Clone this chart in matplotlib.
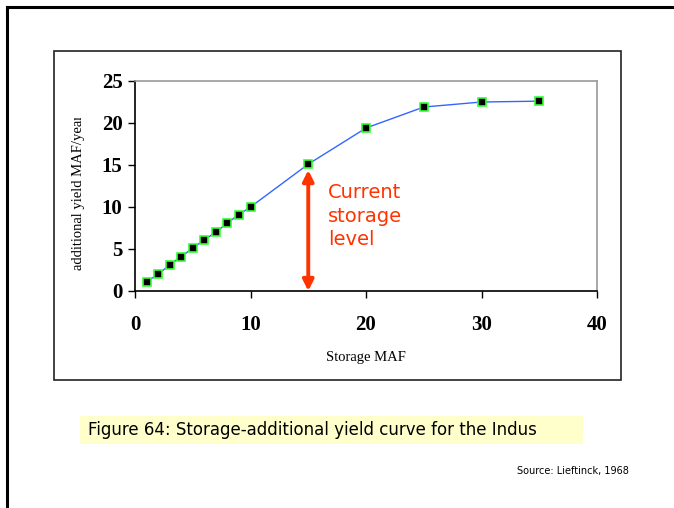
import matplotlib.pyplot as plt
from matplotlib.patches import Rectangle
from matplotlib.transforms import Bbox

# data
storage = [1, 2, 3, 4, 5, 6, 7, 8, 9, 10, 15, 20, 25, 30, 35]
yield_add = [1.1, 2.0, 3.1, 4.1, 5.1, 6.1, 7.0, 8.1, 9.1, 10.0, 15.1, 19.4, 21.9, 22.5, 22.6]
x_ticks = [0, 10, 20, 30, 40]
y_ticks = [0, 5, 10, 15, 20, 25]
current_storage = 15
arrow_top = 14.4

W, H = 674, 508
fig = plt.figure(figsize=(W / 100, H / 100), dpi=100)
fig.patch.set_facecolor('white')

def fx(px):
    return px / W

def fy(py):
    return 1 - py / H

# page border (top and left edges)
fig.add_artist(plt.Line2D([fx(7), 1], [fy(7), fy(7)], color='black', lw=2.2))
fig.add_artist(plt.Line2D([fx(7), fx(7)], [fy(7), 0], color='black', lw=2.2))

# chart frame
fig.add_artist(Rectangle((fx(54), fy(380)), fx(621) - fx(54), fy(51) - fy(380),
                         fill=False, edgecolor='#222222', lw=1.2))

ax = fig.add_axes([fx(135), fy(291), fx(597) - fx(135), fy(81) - fy(291)])
ax.plot(storage, yield_add, color='#3366ff', lw=1, marker='s', markersize=6,
        markerfacecolor='black', markeredgecolor='#33ff33', markeredgewidth=1.2, zorder=3)

ax.set_xlim(0, 40)
ax.set_ylim(0, 25)
ax.set_xticks(x_ticks)
ax.set_yticks(y_ticks)
ax.tick_params(direction='out', length=5, width=1, color='black', pad=12)
ax.tick_params(axis='y', pad=4)
for lab in ax.get_xticklabels() + ax.get_yticklabels():
    lab.set_fontfamily('Liberation Serif')
    lab.set_fontweight('bold')
    lab.set_fontsize(15)

ax.spines['left'].set_color('black')
ax.spines['bottom'].set_color('black')
ax.spines['top'].set_color('#999999')
ax.spines['right'].set_color('#999999')
for s in ax.spines.values():
    s.set_linewidth(1.2)

ax.set_xlabel('Storage MAF', fontfamily='Liberation Serif', fontsize=10.5, labelpad=12)
ylab = ax.set_ylabel('additional yield MAF/year', fontfamily='Liberation Serif',
                     fontsize=10.5, labelpad=12)
ylab.set_y(0.47)
# the reference cuts the label off at its top
ylab.set_clip_box(Bbox.from_extents(0, 0, W, fy(118) * H))
ylab.set_clip_on(True)

# current storage arrow and label
ax.annotate('', xy=(current_storage, 0), xytext=(current_storage, arrow_top),
            arrowprops=dict(arrowstyle='<|-|>', color='#ff3300', lw=2.8,
                            mutation_scale=16, shrinkA=0, shrinkB=0))
ax.text(16.7, 8.9, 'Current\nstorage\nlevel', color='#ff3300', fontsize=14,
        fontfamily='DejaVu Sans', va='center', ha='left', linespacing=1.3)

# caption
fig.add_artist(Rectangle((fx(80), fy(444)), fx(583) - fx(80), fy(416) - fy(444),
                         facecolor='#ffffcc', edgecolor='none'))
fig.text(fx(88), fy(430), 'Figure 64: Storage-additional yield curve for the Indus',
         fontsize=12, fontfamily='DejaVu Sans', va='center', ha='left')
fig.text(fx(629), fy(471), 'Source: Lieftinck, 1968', fontsize=7,
         fontfamily='DejaVu Sans', va='center', ha='right')

fig.savefig('out.png', dpi=100)
